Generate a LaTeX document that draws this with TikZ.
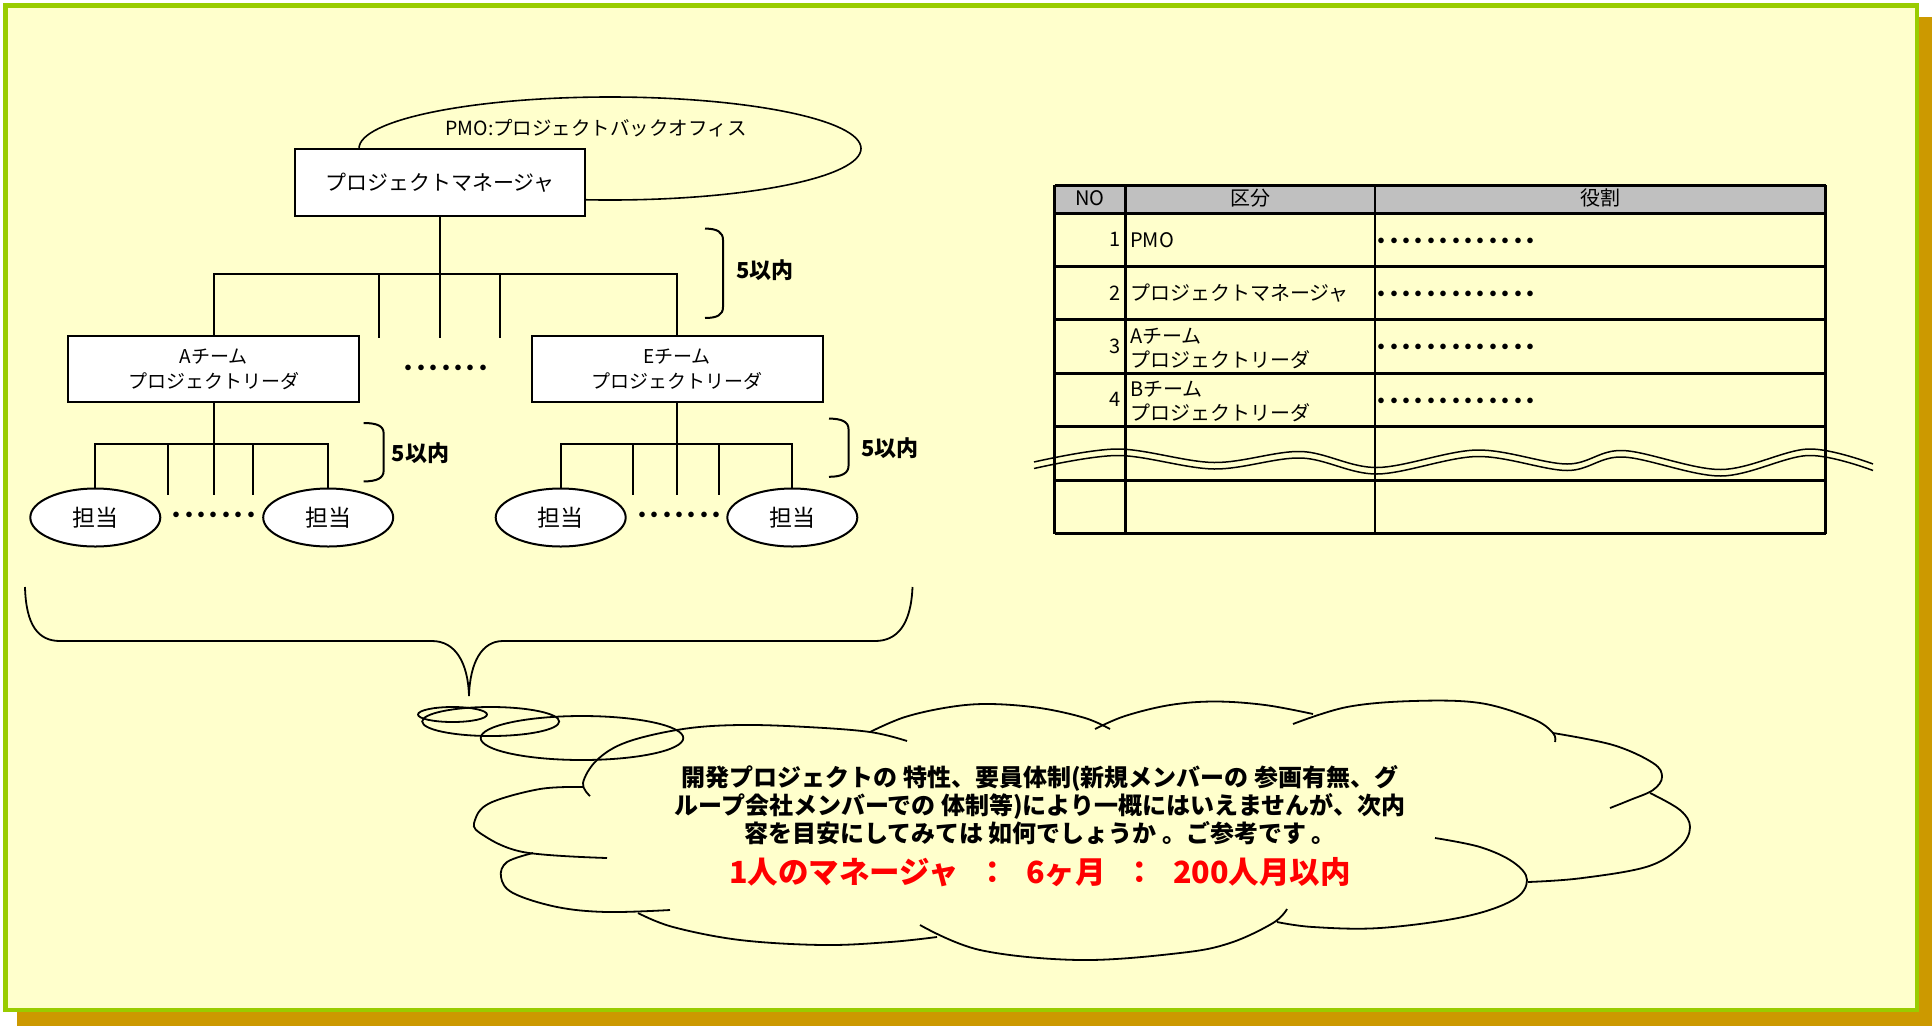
\documentclass[tikz,border=0pt]{standalone}
\usepackage{fontspec}
\setmainfont{Noto Sans CJK JP}
\newfontfamily\dotfont[LetterSpace=-38]{Noto Sans CJK JP}
\usetikzlibrary{shapes.geometric}
\definecolor{bgyellow}{HTML}{FFFFCC}
\definecolor{framegreen}{HTML}{99CC00}
\definecolor{shadowgold}{HTML}{CC9900}
\definecolor{hdrgray}{HTML}{C0C0C0}
\definecolor{alertred}{HTML}{FF0000}
\newcommand\fsz[2]{\fontsize{#1}{#2}\selectfont}
\begin{document}
\begin{tikzpicture}[x=1pt,y=-1pt,
  tree/.style={line width=2pt},
  box/.style={draw, line width=2pt, fill=white, inner sep=0pt, align=center},
  oval/.style={draw, ellipse, line width=2pt, fill=white, inner sep=0pt, minimum width=130pt, minimum height=58pt, font=\fsz{23pt}{27pt}},
  dotrow/.style={inner sep=0pt, font=\dotfont\fsz{20pt}{22pt}\bfseries},
  lbl/.style={inner sep=0pt, font=\fsz{22pt}{26pt}\bfseries},
  cell/.style={inner sep=0pt, font=\fsz{20pt}{24pt}, align=left},
  arc/.style={line width=1.8pt},
  tline/.style={line width=3pt},
  vline/.style={line width=2.5pt},
]
\useasboundingbox (0,0) rectangle (1932,1026);
% frame with shadow
\fill[shadowgold] (17,17) rectangle (1932,1026);
\draw[line width=4.5pt, draw=framegreen, fill=bgyellow] (5.5,5.5) rectangle (1917,1010);

% ---------- org chart ----------
\node[draw, ellipse, line width=1.6pt, minimum width=502pt, minimum height=103pt, inner sep=0pt] (pmo) at (610,148.5) {};
\node[inner sep=0pt, font=\fsz{19.5pt}{23pt}] (pmotext) at (596,128) {PMO:プロジェクトバックオフィス};
\node[box, minimum width=290pt, minimum height=67.5pt, font=\fsz{21pt}{25pt}] (pm) at (440,182.7) {プロジェクトマネージャ};

\node[box, minimum width=291pt, minimum height=66.5pt, font=\fsz{19pt}{25pt}] (teamA) at (213.5,369) {Aチーム\\プロジェクトリーダ};
\node[box, minimum width=291pt, minimum height=66.5pt, font=\fsz{19pt}{25pt}] (teamE) at (677,369) {Eチーム\\プロジェクトリーダ};
\node[dotrow] (dotsTop) at (446,370) {・・・・・・・};

\coordinate (bus1) at (440,274);
\coordinate (s1) at (379,337.5);
\coordinate (s2) at (440,337.5);
\coordinate (s3) at (500,337.5);
\draw[tree] (teamA.north) -- (teamA.north |- bus1) -- (teamE.north |- bus1) -- (teamE.north);
\draw[tree] (pm.south) -- (s2);
\draw[tree] (s1 |- bus1) -- (s1);
\draw[tree] (s3 |- bus1) -- (s3);

% A subtree
\node[oval] (a1) at (95.3,517.5) {担当};
\node[oval] (a2) at (328.2,517.5) {担当};
\node[dotrow] (dotsA) at (213.8,517) {・・・・・・・};
\coordinate (busA) at (213.5,444);
\coordinate (aS1) at (168,494.6);
\coordinate (aS2) at (213.5,494.6);
\coordinate (aS3) at (253,494.6);
\draw[tree] (teamA.south) -- (aS2);
\draw[tree] (a1.north) -- (a1.north |- busA) -- (a2.north |- busA) -- (a2.north);
\draw[tree] (aS1 |- busA) -- (aS1);
\draw[tree] (aS3 |- busA) -- (aS3);

% E subtree
\node[oval] (e1) at (560.7,517.5) {担当};
\node[oval] (e2) at (792.3,517.5) {担当};
\node[dotrow] (dotsE) at (679.5,517) {・・・・・・・};
\coordinate (busE) at (677,444);
\coordinate (eS1) at (633,494.6);
\coordinate (eS2) at (677,494.6);
\coordinate (eS3) at (719.4,494.6);
\draw[tree] (teamE.south) -- (eS2);
\draw[tree] (e1.north) -- (e1.north |- busE) -- (e2.north |- busE) -- (e2.north);
\draw[tree] (eS1 |- busE) -- (eS1);
\draw[tree] (eS3 |- busE) -- (eS3);

% brackets and labels
\draw[tree] (705,228.6) .. controls (717,228.6) and (723,232) .. (723,240) -- (723,307) .. controls (723,315) and (717,318) .. (705,318);
\node[lbl] (lim1) at (765,270) {5以内};
\draw[tree] (363.6,423) .. controls (377,423) and (383.6,426) .. (383.6,433) -- (383.6,471) .. controls (383.6,478) and (377,481.4) .. (363.6,481.4);
\node[lbl] (lim2) at (420.6,453.6) {5以内};
\draw[tree] (829,418.6) .. controls (842,418.6) and (848.5,422) .. (848.5,429) -- (848.5,466) .. controls (848.5,473) and (842,476.8) .. (829,476.8);
\node[lbl] (lim3) at (890,448) {5以内};

% big brace
\draw[line width=1.8pt] (25,587) .. controls (26,625) and (38,641) .. (60,641) -- (432,641) .. controls (455,641) and (468,662) .. (469,696) .. controls (470,662) and (482,641) .. (503,641) -- (875,641) .. controls (897,641) and (911,625) .. (912.5,587);

% ---------- table ----------
\fill[hdrgray] (1054.5,185) rectangle (1825.5,213);
\foreach \yy in {185,213,266.5,319.5,373,426.5,480.3,533.5}
  \draw[tline] (1054.5,\yy) -- (1825.5,\yy);
\foreach \xx in {1054.5,1125.5,1375,1825.5}
  \draw[vline] (\xx,185) -- (\xx,533.5);
\node[cell] (hNo) at (1090,198) {NO};
\node[cell] (hKubun) at (1250,198) {区分};
\node[cell] (hRole) at (1600,198) {役割};

\node[cell, anchor=east] (n1) at (1121,239.75) {1};
\node[cell, anchor=east] (n2) at (1121,293) {2};
\node[cell, anchor=east] (n3) at (1121,346.25) {3};
\node[cell, anchor=east] (n4) at (1121,399.75) {4};
\node[cell, anchor=west] (k1) at (1130,239.75) {PMO};
\node[cell, anchor=west] (k2) at (1130,293) {プロジェクトマネージャ};
\node[cell, anchor=west] (k3) at (1130,348) {Aチーム\\プロジェクトリーダ};
\node[cell, anchor=west] (k4) at (1130,401.5) {Bチーム\\プロジェクトリーダ};
\node[dotrow] (r1) at (1456,243) {・・・・・・・・・・・・・};
\node[dotrow] (r2) at (1456,296) {・・・・・・・・・・・・・};
\node[dotrow] (r3) at (1456,349) {・・・・・・・・・・・・・};
\node[dotrow] (r4) at (1456,403) {・・・・・・・・・・・・・};

% wave (omission mark)
\draw[line width=1.5pt] plot[smooth, tension=0.55] coordinates {(1034,462) (1118,449) (1214,462.5) (1301,451.5) (1377,467.5) (1477,450) (1567,464) (1623,450.5) (1721,469.5) (1808,449) (1873,464)};
\draw[line width=1.5pt, shift={(0,6.5)}] plot[smooth, tension=0.55] coordinates {(1034,462) (1118,449) (1214,462.5) (1301,451.5) (1377,467.5) (1477,450) (1567,464) (1623,450.5) (1721,469.5) (1808,449) (1873,464)};

% ---------- thought cloud ----------
\draw[arc] (452.5,714.5) ellipse [x radius=34.5pt, y radius=7.5pt];
\draw[arc] (490.7,721.5) ellipse [x radius=68.5pt, y radius=14.5pt];
\draw[arc] (582,738) ellipse [x radius=101.3pt, y radius=22pt];

\draw[arc] plot[smooth, tension=0.6] coordinates {(590,796) (583,783) (597,760) (627,742) (683,729) (740,725) (807,727) (870,732) (907,741)};
\draw[arc] plot[smooth, tension=0.6] coordinates {(870,732) (905,717) (950,707) (990,704) (1040,708) (1085,718) (1110,729)};
\draw[arc] plot[smooth, tension=0.6] coordinates {(1095,729) (1125,716) (1170,705) (1215,701.5) (1265,705) (1313,714)};
\draw[arc] plot[smooth, tension=0.6] coordinates {(1293,724) (1347,707) (1413,701) (1480,703) (1533,719) (1553,733) (1555,742)};
\draw[arc] plot[smooth, tension=0.6] coordinates {(1553,733) (1613,745) (1653,763) (1662,777) (1653,790) (1630,800) (1610,808)};
\draw[arc] plot[smooth, tension=0.6] coordinates {(1650,793) (1680,810) (1690,827) (1680,847) (1647,866.7) (1580,878.3) (1528,882)};
\draw[arc] plot[smooth, tension=0.6] coordinates {(1435,838) (1480,847) (1513,862) (1527,880) (1513,900) (1463,917) (1380,928) (1313,927) (1277,922)};
\draw[arc] plot[smooth, tension=0.6] coordinates {(1287,909) (1273,923) (1230,943) (1180,953) (1080,960) (980,950) (920,925)};
\draw[arc] plot[smooth, tension=0.6] coordinates {(638,913) (673,927) (740,940) (823,945) (890,942) (937,937)};
\draw[arc] plot[smooth, tension=0.6] coordinates {(533,853) (507,862) (501,877) (513,893) (557,907) (607,912) (670,910)};
\draw[arc] plot[smooth, tension=0.6] coordinates {(583,787) (540,789) (490,803) (475,820) (480,833) (523,852) (607,858)};

\node[inner sep=0pt, align=center, font=\fsz{24pt}{28pt}\bfseries] (note) at (1040,805.5)
  {開発プロジェクトの 特性、要員体制(新規メンバーの 参画有無、グ\\ループ会社メンバーでの 体制等)により一概にはいえませんが、次内\\容を目安にしてみては 如何でしょうか 。ご参考です 。};
\node[inner sep=0pt, text=alertred, font=\fsz{30.5pt}{34pt}\bfseries] (rule) at (1040,872)
  {\spaceskip=0.6em\relax 1人のマネージャ ： 6ヶ月 ： 200人月以内};
\end{tikzpicture}
\end{document}
